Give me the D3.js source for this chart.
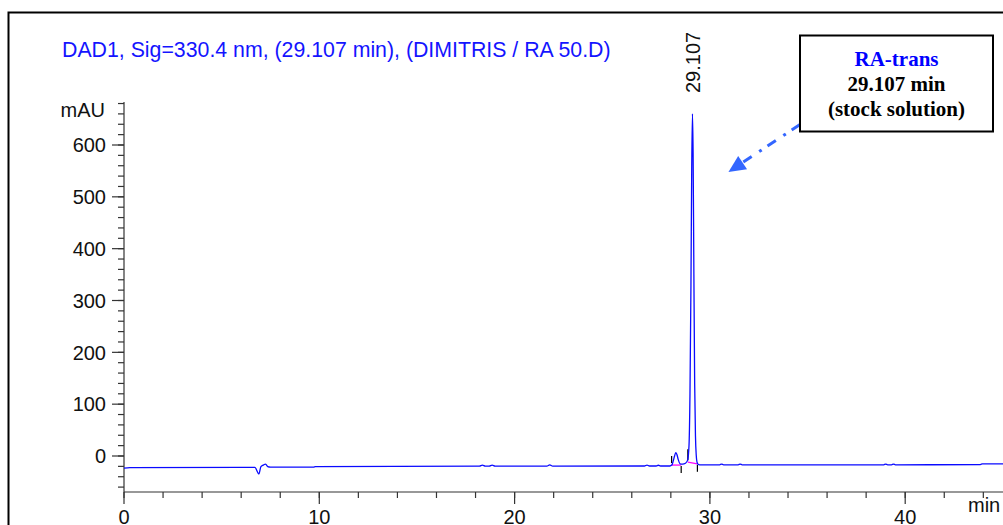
<!DOCTYPE html>
<html lang="en">
<head>
    <meta charset="UTF-8">
    <title>DAD1 chromatogram - RA 50.D</title>
    <script src="https://d3js.org/d3.v7.min.js"></script>
    <style>
        body {
            margin: 0;
            padding: 0;
            background-color: #ffffff;
            overflow: hidden;
        }
        svg {
            display: block;
            font-family: Arial, "Liberation Sans", sans-serif;
        }
        .axis-line, .tick-line {
            stroke: #333333;
            stroke-width: 1.2px;
        }
        .tick-label {
            font-size: 20px;
            fill: #111111;
        }
        .note {
            font-family: "Times New Roman", "Liberation Serif", serif;
            font-weight: bold;
            font-size: 21px;
            text-anchor: middle;
        }
    </style>
</head>
<body>
    <div id="chart"></div>

    <script>
        const width = 1003;
        const height = 525;

        // signal (time in min, absorbance in mAU)
        const times = [0, 0.3, 6.0, 6.7, 6.91, 7.01, 7.13, 7.25, 7.36, 7.5, 9.7, 9.8,
            18.2, 18.35, 18.5, 18.7, 18.85, 19.0, 19.2, 21.65, 21.8, 21.95,
            26.65, 26.78, 26.9, 27.25, 27.36, 27.47, 27.95, 28.05, 28.12, 28.19, 28.25,
            28.31, 28.38, 28.47, 28.6, 28.75, 28.86, 28.93, 28.98, 29.03, 29.07, 29.107,
            29.14, 29.18, 29.22, 29.26, 29.3, 29.35, 29.42, 29.55, 30.5, 30.6, 30.7,
            31.45, 31.55, 31.65, 38.9, 39.0, 39.1, 39.3, 39.4, 39.5, 43.85, 43.95, 46];
        const mAU = [-23.5, -22.5, -22, -22, -34.5, -20.5, -17.5, -15.5, -20.5, -21.5, -21.5, -20.5,
            -19.5, -17.5, -19.5, -19.5, -17.5, -19.5, -19.5, -19.5, -17, -19.5,
            -19.3, -17.5, -19.3, -19.3, -17.8, -19.3, -19.3, -17.5, -10, 0, 6.5,
            3, -7, -15, -15.5, -14, -8, 20, 120, 330, 560, 660,
            585, 350, 140, 40, 2, -13, -16.5, -17, -17, -15.5, -17,
            -17, -15.5, -17, -17, -15.5, -17, -17, -15.5, -17, -16.5, -15, -15];

        // integration events: peak start / end times and baseline level
        const peakStart = [28.04, 28.87];
        const peakEnd = [28.53, 29.36];
        const startLevel = [-17.5, -12];
        const endLevel = [-17.5, -15];

        const retentionTime = 29.107;
        const titleText = "DAD1, Sig=330.4 nm, (29.107 min), (DIMITRIS / RA 50.D)";
        const noteLines = ["RA-trans", "29.107 min", "(stock solution)"];
        const arrowTip = [30.95, 548];

        const xMajor = [0, 10, 20, 30, 40];
        const xMinor = d3.range(0, 46, 2);
        const yMajor = [0, 100, 200, 300, 400, 500, 600];
        const yMinor = d3.range(-60, 681, 20);

        const svg = d3.select("#chart")
            .append("svg")
            .attr("width", width)
            .attr("height", height);

        const x = d3.scaleLinear().domain([0, 10]).range([124, 319.3]);
        const y = d3.scaleLinear().domain([0, 600]).range([456, 145]);
        const yBottom = 492;

        // outer frame
        svg.append("rect")
            .attr("x", 8.5).attr("y", 12.5)
            .attr("width", 1020).attr("height", 540)
            .attr("fill", "none")
            .attr("stroke", "#000")
            .attr("stroke-width", 2);

        svg.append("text")
            .attr("x", 62).attr("y", 56.5)
            .attr("fill", "#1414ff")
            .style("font-size", "21.3px")
            .text(titleText);

        // y axis
        svg.append("line").attr("class", "axis-line")
            .attr("x1", x(0)).attr("x2", x(0))
            .attr("y1", y(683)).attr("y2", yBottom);
        svg.selectAll(".ymin").data(yMinor).enter().append("line")
            .attr("class", "tick-line")
            .attr("x1", x(0) - 6).attr("x2", x(0))
            .attr("y1", d => y(d)).attr("y2", d => y(d));
        svg.selectAll(".ymaj").data(yMajor).enter().append("line")
            .attr("class", "tick-line")
            .attr("x1", x(0) - 12).attr("x2", x(0))
            .attr("y1", d => y(d)).attr("y2", d => y(d));
        svg.selectAll(".ylab").data(yMajor).enter().append("text")
            .attr("class", "tick-label")
            .attr("x", 106)
            .attr("y", d => y(d) + 7.2)
            .attr("text-anchor", "end")
            .text(d => d);
        svg.append("text").attr("class", "tick-label")
            .attr("x", 105).attr("y", 116.5)
            .attr("text-anchor", "end")
            .text("mAU");

        // x axis
        svg.append("line").attr("class", "axis-line")
            .attr("x1", x(0)).attr("x2", width + 5)
            .attr("y1", yBottom).attr("y2", yBottom);
        svg.selectAll(".xmin").data(xMinor).enter().append("line")
            .attr("class", "tick-line")
            .attr("x1", d => x(d)).attr("x2", d => x(d))
            .attr("y1", yBottom).attr("y2", yBottom + 6);
        svg.selectAll(".xmaj").data(xMajor).enter().append("line")
            .attr("class", "tick-line")
            .attr("x1", d => x(d)).attr("x2", d => x(d))
            .attr("y1", yBottom).attr("y2", yBottom + 12);
        svg.selectAll(".xlab").data(xMajor).enter().append("text")
            .attr("class", "tick-label")
            .attr("x", d => x(d))
            .attr("y", 524)
            .attr("text-anchor", "middle")
            .text(d => d);
        svg.append("text").attr("class", "tick-label")
            .attr("x", 968).attr("y", 511.5)
            .text("min");

        // integration baselines and event marks
        svg.selectAll(".ibase").data(peakStart).enter().append("line")
            .attr("x1", d => x(d)).attr("y1", (d, i) => y(startLevel[i]))
            .attr("x2", (d, i) => x(peakEnd[i])).attr("y2", (d, i) => y(endLevel[i]))
            .attr("stroke", "#ff00ff")
            .attr("stroke-width", 1.3);
        svg.selectAll(".istart").data(peakStart).enter().append("line")
            .attr("x1", d => x(d)).attr("x2", d => x(d))
            .attr("y1", (d, i) => y(startLevel[i]) - 2)
            .attr("y2", (d, i) => y(startLevel[i]) - (i === 0 ? 9 : 13))
            .attr("stroke", "#000").attr("stroke-width", 1.2);
        svg.selectAll(".iend").data(peakEnd).enter().append("line")
            .attr("x1", d => x(d)).attr("x2", d => x(d))
            .attr("y1", (d, i) => y(endLevel[i]) + 1)
            .attr("y2", (d, i) => y(endLevel[i]) + 8)
            .attr("stroke", "#000").attr("stroke-width", 1.2);

        // signal trace
        const line = d3.line()
            .x(d => x(d[0]))
            .y(d => y(d[1]))
            .curve(d3.curveMonotoneX);

        svg.append("path")
            .datum(d3.zip(times, mAU))
            .attr("d", line)
            .attr("fill", "none")
            .attr("stroke", "#0a0aff")
            .attr("stroke-width", 1.3);

        // retention time label
        svg.append("text")
            .attr("transform", `translate(${x(retentionTime) + 7.5},93) rotate(-90)`)
            .attr("class", "tick-label")
            .text(retentionTime.toFixed(3));

        // annotation arrow
        const boxX = 800, boxY = 35.5, boxW = 193, boxH = 96;
        const tipX = x(arrowTip[0]), tipY = y(arrowTip[1]);
        const fromX = boxX, fromY = boxY + boxH - 7;
        const ang = Math.atan2(tipY - fromY, tipX - fromX);
        const headLen = 17, headHalf = 8;
        const baseX = tipX - headLen * Math.cos(ang), baseY = tipY - headLen * Math.sin(ang);

        svg.append("line")
            .attr("x1", fromX).attr("y1", fromY)
            .attr("x2", baseX).attr("y2", baseY)
            .attr("stroke", "#3366ff")
            .attr("stroke-width", 3)
            .attr("stroke-dasharray", "10,7,3,9");
        svg.append("path")
            .attr("d", `M${tipX},${tipY}` +
                `L${baseX + headHalf * Math.sin(ang)},${baseY - headHalf * Math.cos(ang)}` +
                `L${baseX - headHalf * Math.sin(ang)},${baseY + headHalf * Math.cos(ang)}Z`)
            .attr("fill", "#3366ff");

        svg.append("rect")
            .attr("x", boxX).attr("y", boxY)
            .attr("width", boxW).attr("height", boxH)
            .attr("fill", "#fff")
            .attr("stroke", "#000")
            .attr("stroke-width", 2);

        svg.selectAll(".note").data(noteLines).enter().append("text")
            .attr("class", "note")
            .attr("x", boxX + boxW / 2)
            .attr("y", (d, i) => 65.5 + i * 25)
            .attr("fill", (d, i) => i === 0 ? "#0000ff" : "#000")
            .text(d => d);
    </script>
</body>
</html>
